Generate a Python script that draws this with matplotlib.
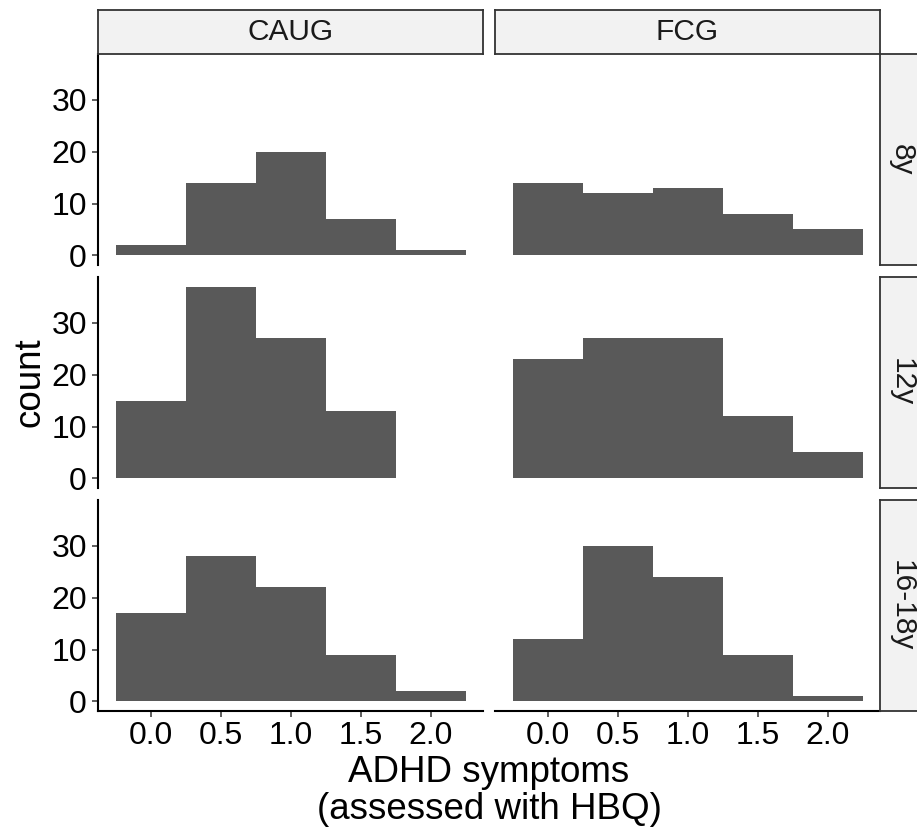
import matplotlib

matplotlib.use("Agg")
import matplotlib.pyplot as plt

plt.rcParams["font.family"] = ["Liberation Sans", "DejaVu Sans"]

# histogram bins (centres, binwidth 0.5)
bin_centres = [0.0, 0.5, 1.0, 1.5, 2.0]
bin_width = 0.5

groups = ["CAUG", "FCG"]
ages = ["8y", "12y", "16-18y"]

caug_8y = [2, 14, 20, 7, 1]
fcg_8y = [14, 12, 13, 8, 5]
caug_12y = [15, 37, 27, 13, 0]
fcg_12y = [23, 27, 27, 12, 5]
caug_16y = [17, 28, 22, 9, 2]
fcg_16y = [12, 30, 24, 9, 1]

counts = {
    ("CAUG", "8y"): caug_8y,
    ("FCG", "8y"): fcg_8y,
    ("CAUG", "12y"): caug_12y,
    ("FCG", "12y"): fcg_12y,
    ("CAUG", "16-18y"): caug_16y,
    ("FCG", "16-18y"): fcg_16y,
}

x_ticks = [0.0, 0.5, 1.0, 1.5, 2.0]
x_ticklabels = ["0.0", "0.5", "1.0", "1.5", "2.0"]
y_ticks = [0, 10, 20, 30]

W, H = 917, 838
fig = plt.figure(figsize=(W / 100, H / 100), dpi=100)
fig.patch.set_facecolor("white")

col_x = [98, 495]
col_w = 385
row_top = [54, 277, 500]
row_h = 211
strip_size = 44

BAR = "#595959"
STRIP_FILL = "#F2F2F2"
STRIP_EDGE = "#333333"
TICK_FS = 23
STRIP_FS = 21.5
TITLE_FS = 26.5


def fig_rect(x, y_top, w, h):
    return [x / W, 1 - (y_top + h) / H, w / W, h / H]


all_counts = [v for vals in counts.values() for v in vals]
ymax = max(all_counts)
ypad = ymax * 0.05
xlo, xhi = bin_centres[0] - bin_width / 2, bin_centres[-1] + bin_width / 2
xpad = (xhi - xlo) * 0.05

for r, age in enumerate(ages):
    for c, grp in enumerate(groups):
        ax = fig.add_axes(fig_rect(col_x[c], row_top[r], col_w, row_h))
        ax.bar(bin_centres, counts[(grp, age)], width=bin_width, color=BAR, linewidth=0)
        ax.set_xlim(xlo - xpad, xhi + xpad)
        ax.set_ylim(-ypad, ymax + ypad)
        for s in ["top", "right"]:
            ax.spines[s].set_visible(False)
        ax.spines["left"].set_linewidth(1.5)
        ax.spines["bottom"].set_linewidth(1.5)
        ax.tick_params(length=4, width=1.1, color="#333333", labelsize=TICK_FS,
                       labelcolor="black")
        ax.tick_params(axis="y", pad=4)
        ax.tick_params(axis="x", pad=3)

        if c == 0:
            ax.set_yticks(y_ticks)
        else:
            ax.spines["left"].set_visible(False)
            ax.set_yticks([])

        if r == len(ages) - 1:
            ax.set_xticks(x_ticks)
            ax.set_xticklabels(x_ticklabels)
        else:
            ax.spines["bottom"].set_visible(False)
            ax.set_xticks([])

        # top strips
        if r == 0:
            sa = fig.add_axes(fig_rect(col_x[c], row_top[0] - strip_size, col_w, strip_size))
            sa.set_facecolor(STRIP_FILL)
            sa.set_xticks([])
            sa.set_yticks([])
            for sp in sa.spines.values():
                sp.set_color(STRIP_EDGE)
                sp.set_linewidth(1.3)
            sa.text(0.5, 0.5, grp, ha="center", va="center", fontsize=STRIP_FS,
                    color="#1A1A1A", transform=sa.transAxes)

    # right strips
    sa = fig.add_axes(fig_rect(col_x[1] + col_w, row_top[r], strip_size, row_h))
    sa.set_facecolor(STRIP_FILL)
    sa.set_xticks([])
    sa.set_yticks([])
    for sp in sa.spines.values():
        sp.set_color(STRIP_EDGE)
        sp.set_linewidth(1.3)
    sa.text(0.5, 0.5, age, ha="center", va="center", rotation=-90, fontsize=STRIP_FS,
            color="#1A1A1A", transform=sa.transAxes)

# axis titles
fig.text(30 / W, 1 - ((row_top[0] + row_top[2] + row_h) / 2) / H, "count",
         rotation=90, ha="center", va="center", fontsize=TITLE_FS)
fig.text((col_x[0] + col_x[1] + col_w) / 2 / W, 1 - 791 / H,
         "ADHD symptoms\n(assessed with HBQ)", ha="center", va="center",
         fontsize=TITLE_FS, linespacing=1.1)

fig.savefig("out.png", dpi=100, facecolor="white")
